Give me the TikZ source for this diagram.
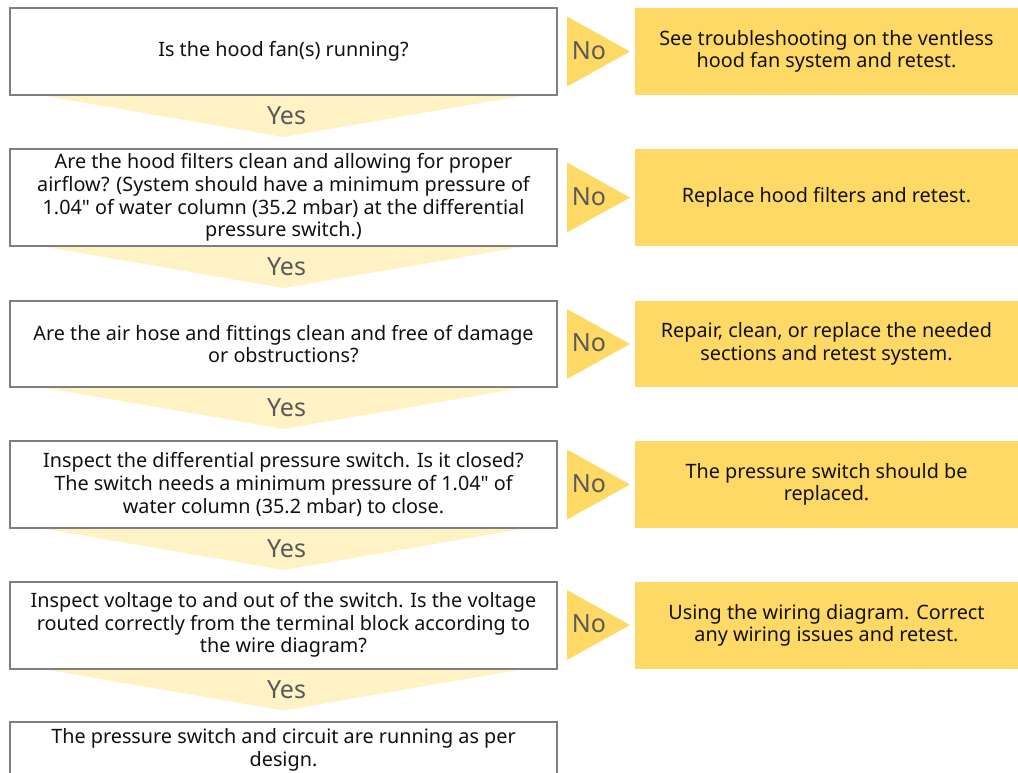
\documentclass[tikz,border=0pt]{standalone}
\usepackage{fontspec}
\setmainfont{Noto Sans}
\newfontfamily\plainfont{Noto Sans}
\usetikzlibrary{calc,backgrounds}
\definecolor{gold}{HTML}{FFD966}
\definecolor{pale}{HTML}{FFF2C4}
\definecolor{bordergrey}{HTML}{7F7F7F}
\definecolor{labgrey}{HTML}{595959}
\definecolor{ink}{HTML}{111111}
\newcommand{\inchmark}{{\plainfont\symbol{"22}}}
\begin{document}
\begin{tikzpicture}[x=1pt,y=-1pt,
  txt/.style={align=center,font=\fontsize{19.8}{22.6}\selectfont,text=ink,inner sep=0pt,outer sep=0pt},
  qbox/.style={txt,draw=bordergrey,line width=2pt,fill=white,minimum width=547pt},
  abox/.style={txt,fill=gold,minimum width=383pt},
  nochev/.style={fill=gold},
  yeschev/.style={fill=pale},
  lab/.style={font=\fontsize{25}{28}\selectfont,text=labgrey,inner sep=0pt}]
\useasboundingbox (0,0) rectangle (1018,772);
\clip (0,0) rectangle (1018,772);

% questions
\node[qbox,minimum height=87pt] (q1) at (283.5,51.5) {Is the hood fan(s) running?};
\node[qbox,minimum height=97pt] (q2) at (283.5,197.5) {Are the hood filters clean and allowing for proper\\airflow? (System should have a minimum pressure of\\1.04\inchmark{} of water column (35.2 mbar) at the differential\\pressure switch.)};
\node[qbox,minimum height=86pt] (q3) at (283.5,344) {Are the air hose and fittings clean and free of damage\\or obstructions?};
\node[qbox,minimum height=87pt] (q4) at (283.5,484.5) {Inspect the differential pressure switch. Is it closed?\\The switch needs a minimum pressure of 1.04\inchmark{} of\\water column (35.2 mbar) to close.};
\node[qbox,minimum height=87pt] (q5) at (283.5,625) {Inspect voltage to and out of the switch. Is the voltage\\routed correctly from the terminal block according to\\the wire diagram?};
\node[qbox,minimum height=56pt] (q6) at (283.5,750) {The pressure switch and circuit are running as per\\design.};

% answers
\node[abox,minimum height=87pt] (a1) at (826.5,51.5) {See troubleshooting on the ventless\\hood fan system and retest.};
\node[abox,minimum height=97pt] (a2) at (826.5,197.5) {Replace hood filters and retest.};
\node[abox,minimum height=86pt] (a3) at (826.5,344) {Repair, clean, or replace the needed\\sections and retest system.};
\node[abox,minimum height=87pt] (a4) at (826.5,484.5) {The pressure switch should be\\replaced.};
\node[abox,minimum height=87pt] (a5) at (826.5,625.5) {Using the wiring diagram. Correct\\any wiring issues and retest.};

% No arrows
\foreach \i in {1,...,5}{
  \fill[nochev] ($(q\i.east)+(10,-35)$) -- ($(q\i.east)+(73,0)$) -- ($(q\i.east)+(10,35)$) -- cycle;
  \node[lab] (no\i) at ($(q\i.east)+(32,-1)$) {No};
}

% Yes arrows
\begin{pgfonlayer}{background}
\foreach \i in {1,...,5}{
  \fill[yeschev] ($(q\i.south)+(-243.5,0)$) -- ($(q\i.south)+(243.5,0)$) -- ($(q\i.south)+(0,42)$) -- cycle;
}
\end{pgfonlayer}
\foreach \i in {1,...,5}{
  \node[lab] (yes\i) at ($(q\i.south)+(3,21)$) {Yes};
}
\end{tikzpicture}
\end{document}
